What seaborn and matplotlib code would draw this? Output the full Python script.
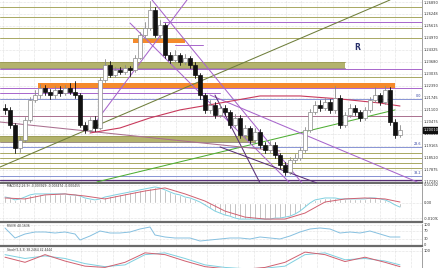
import numpy as np
import pandas as pd
import matplotlib
matplotlib.use("Agg")
import matplotlib.pyplot as plt
from matplotlib.patches import Rectangle
import seaborn as sns

sns.set_style("white")
plt.rcParams['font.family'] = ['DejaVu Sans']

# ---------------- data ----------------
first_open = 1.2120
closes = [1.2109, 1.2028, 1.1905, 1.1948, 1.2055, 1.2163, 1.2189, 1.2227, 1.2206, 1.2189,
          1.2216, 1.2200, 1.2227, 1.2206, 1.2189, 1.2028, 1.2001, 1.2055, 1.2012, 1.2270,
          1.2351, 1.2297, 1.2324, 1.2313, 1.2335, 1.2324, 1.2388, 1.2512, 1.2550, 1.2646,
          1.2512, 1.2566, 1.2404, 1.2378, 1.2404, 1.2367, 1.2388, 1.2351, 1.2297, 1.2189,
          1.2109, 1.2136, 1.2082, 1.2120, 1.2098, 1.2028, 1.2066, 1.1974, 1.2012, 1.1948,
          1.1990, 1.1921, 1.1894, 1.1921, 1.1867, 1.1813, 1.1776, 1.1840, 1.1851, 1.1894,
          1.2001, 1.2098, 1.2136, 1.2120, 1.2152, 1.2109, 1.2173, 1.2028, 1.2082, 1.2120,
          1.2098, 1.2066, 1.2109, 1.2163, 1.2189, 1.2152, 1.2216, 1.2044, 1.1974, 1.2001]
highs = [1.2140, 1.2125, 1.2040, 1.1965, 1.2070, 1.2180, 1.2215, 1.2250, 1.2245, 1.2220,
         1.2240, 1.2235, 1.2245, 1.2255, 1.2265, 1.2200, 1.2045, 1.2070, 1.2075, 1.2285,
         1.2380, 1.2370, 1.2340, 1.2340, 1.2350, 1.2345, 1.2405, 1.2530, 1.2580, 1.2695,
         1.2660, 1.2590, 1.2575, 1.2420, 1.2430, 1.2415, 1.2410, 1.2400, 1.2365, 1.2310,
         1.2200, 1.2160, 1.2150, 1.2140, 1.2135, 1.2110, 1.2085, 1.2080, 1.2030, 1.2025,
         1.2010, 1.2005, 1.1935, 1.1940, 1.1935, 1.1880, 1.1830, 1.1855, 1.1870, 1.1910,
         1.2015, 1.2115, 1.2155, 1.2160, 1.2175, 1.2165, 1.2240, 1.2190, 1.2100, 1.2140,
         1.2135, 1.2110, 1.2125, 1.2180, 1.2230, 1.2200, 1.2235, 1.2230, 1.2060, 1.2030]
lows = [1.2085, 1.2010, 1.1880, 1.1885, 1.1935, 1.2045, 1.2150, 1.2175, 1.2190, 1.2170,
        1.2175, 1.2185, 1.2190, 1.2195, 1.2175, 1.2015, 1.1985, 1.1990, 1.1995, 1.2005,
        1.2260, 1.2285, 1.2285, 1.2300, 1.2300, 1.2290, 1.2315, 1.2380, 1.2500, 1.2540,
        1.2500, 1.2495, 1.2390, 1.2360, 1.2365, 1.2350, 1.2355, 1.2335, 1.2280, 1.2170,
        1.2090, 1.2095, 1.2065, 1.2070, 1.2080, 1.2010, 1.2015, 1.1960, 1.1960, 1.1930,
        1.1935, 1.1905, 1.1875, 1.1880, 1.1850, 1.1795, 1.1760, 1.1765, 1.1825, 1.1840,
        1.1885, 1.1990, 1.2085, 1.2105, 1.2110, 1.2090, 1.2095, 1.2010, 1.2015, 1.2070,
        1.2080, 1.2050, 1.2055, 1.2100, 1.2150, 1.2135, 1.2140, 1.2030, 1.1960, 1.1965]

price_ticks = [1.26890, 1.26248, 1.25615, 1.24970, 1.24325, 1.23680, 1.23035, 1.22390,
               1.21745, 1.21100, 1.20475, 1.19810, 1.19165, 1.18520, 1.17875, 1.17230]
price_labels = ["1.26890", "1.26248", "1.25615", "1.24970", "1.24325", "1.23680", "1.23035",
                "1.22390", "1.21745", "1.21100", "1.20475", "1.19810", "1.19165", "1.18520",
                "1.17875", "1.17230"]
current_price_label = "1.20010"

olive_levels = [1.2662, 1.2609, 1.2550, 1.2496, 1.2286, 1.1878, 1.1851, 1.1824, 1.1797]
# purple levels: price, x start, x end (candle index units)
purple_levels = [1.2582, 1.2458, 1.2329, 1.2227, 1.2200, 1.1754]
purple_x0 = [31.6, 34.0, -1.0, -1.0, -1.0, 59.0]
purple_x1 = [83.4, 39.6, 83.4, 83.4, 43.0, 82.4]
fib_levels = [1.2168, 1.1910, 1.1754]
fib_names = ["0.0", "23.6", "38.2"]
mauve_level = 1.2077
bottom_levels = [1.1733, 1.1724]

# bands: low, high, x0, x1
band_lo = [1.2335, 1.1937, 1.2227, 1.2469]
band_hi = [1.2367, 1.1969, 1.2254, 1.2490]
band_x0 = [-1.0, -1.0, 6.6, 25.6]
band_x1 = [68.0, 50.0, 78.0, 36.0]
band_kind = ["olive", "olive", "orange", "orange"]

# trend lines: x0, p0, x1, p1
trend_x0 = [-1.0, 18.4, 18.0, 29.4, 25.0, 41.0, 43.0, 42.0, -1.0]
trend_p0 = [1.1802, 1.1722, 1.2039, 1.2700, 1.2576, 1.2189, 1.1910, 1.2189, 1.2044]
trend_x1 = [77.0, 78.0, 36.4, 59.4, 57.0, 82.4, 62.4, 51.0, 55.0]
trend_p1 = [1.2700, 1.2109, 1.2700, 1.1716, 1.1716, 1.1722, 1.1716, 1.1716, 1.1888]
trend_kind = ["darkolive", "green", "purple", "purple", "purple", "purple", "dark", "dark", "mauve"]

ma_x = [17, 23, 29, 35, 43, 51, 59, 67, 75, 79]
ma_p = [1.1985, 1.2012, 1.2066, 1.2109, 1.2146, 1.2184, 1.2184, 1.2168, 1.2146, 1.2130]

macd_main = [4.3, 3.6, 2.2, 2.9, 4.3, 5.8, 6.5, 6.5, 6.5, 6.5,
             6.5, 6.5, 6.5, 5.8, 5.8, 5.0, 3.6, 2.9, 2.2, 2.9,
             4.3, 5.0, 5.8, 6.5, 7.2, 7.9, 8.6, 9.4, 10.1, 10.8,
             11.5, 10.8, 9.4, 7.9, 6.5, 5.8, 4.3, 3.6, 2.2, 0.7,
             -1.4, -3.6, -5.8, -7.2, -8.6, -9.4, -10.8, -11.5, -11.5, -11.5,
             -11.5, -11.5, -11.5, -11.5, -10.8, -10.8, -10.1, -9.4, -7.9, -5.8,
             -2.9, 0.0, 2.2, 2.9, 3.6, 3.6, 3.6, 2.9, 2.9, 2.9,
             2.9, 2.9, 2.9, 3.6, 3.6, 2.9, 2.2, 0.7, -1.4, -2.9]  # x 1e-3
signal_x = [0, 4, 8, 12, 16, 20, 24, 28, 32, 36, 40, 44, 48, 52, 56, 60, 64, 68, 72, 76, 79]
signal_v = [3.6, 2.9, 5.8, 6.5, 5.0, 2.9, 5.8, 8.6, 10.8, 6.5, 1.4, -5.8, -10.1, -11.5,
            -11.5, -7.2, 0.7, 2.9, 3.6, 2.9, 0.7]  # x 1e-3
macd_ticks = [0.01292, 0.0, -0.01092]
macd_labels = ["0.01292", "0.00", "-0.01092"]

rsi_x = [0, 2, 4, 6, 8, 10, 12, 14, 15, 17, 19, 21, 23, 25, 27, 29, 30, 32, 34, 37, 39,
         41, 43, 45, 47, 49, 51, 53, 55, 57, 59, 61, 63, 65, 67, 69, 71, 73, 75, 77, 79]
rsi_v = [85, 35, 55, 65, 65, 60, 65, 55, 25, 45, 70, 60, 60, 65, 80, 90, 50, 40, 35, 35, 20,
         25, 30, 35, 35, 30, 40, 35, 30, 45, 65, 80, 85, 80, 60, 65, 60, 70, 55, 40, 40]
rsi_ticks = [100, 70, 30, 0]

sto_x = [0, 4, 8, 12, 16, 20, 24, 28, 32, 36, 40, 44, 48, 52, 56, 60, 64, 68, 72, 76, 79]
sto_main = [85, 70, 80, 70, 50, 38, 45, 85, 92, 70, 45, 35, 30, 32, 40, 85, 92, 65, 70, 60, 45]
sto_sig = [75, 55, 85, 60, 40, 35, 55, 92, 85, 60, 38, 30, 28, 35, 55, 95, 85, 58, 75, 55, 38]

macd_title = "MACD(12,26,9) -0.003929 -0.003474 -0.000455"
rsi_title = "RSI(9) 40.1636"
sto_title = "Stoch(5,3,3) 38.2464 42.4444"

# ---------------- style ----------------
C = {"olive": "#a8a862", "oliveband": "#b3b36c", "orange": "#f58a2c", "purple": "#a866cc",
     "dark": "#5a3078", "darkolive": "#6f7f3c", "green": "#4fae34", "mauve": "#aa6f8f",
     "red": "#c83a5c", "blue": "#8894d4", "grid": "#c8c8c8", "sep": "#6a6a6a"}

W, H = 439, 268
PR = 422
XL = (-1.0, 83.4)


def frac(x0, y0, x1, y1):
    return [x0 / W, 1 - y1 / H, (x1 - x0) / W, (y1 - y0) / H]


fig = plt.figure(figsize=(W / 100, H / 100), dpi=100)
fig.patch.set_facecolor("white")
ax = fig.add_axes(frac(0, 0, PR, 183))
axm = fig.add_axes(frac(0, 184, PR, 222))
axr = fig.add_axes(frac(0, 224, PR, 246))
axs = fig.add_axes(frac(0, 248, PR, 282))

ymax = 1.26998
ymin = ymax - 183 * 0.0005375
grid_x = np.arange(-0.4, 84, 3.14)


def base(a, ylim, ticks, labels):
    a.set_xlim(*XL)
    a.set_ylim(*ylim)
    a.yaxis.tick_right()
    a.set_yticks(ticks)
    a.set_yticklabels(labels)
    a.set_xticks([])
    a.tick_params(axis="y", labelsize=2.6, length=0, pad=1.2, colors="#303030")
    for gx in grid_x:
        a.axvline(gx, color=C["grid"], lw=0.4, ls=(0, (1, 1.5)), zorder=0)
    for t in ticks:
        a.axhline(t, color=C["grid"], lw=0.4, ls=(0, (1, 1.5)), zorder=0)
    a.spines["left"].set_visible(False)
    a.spines["top"].set_visible(False)
    a.spines["right"].set_color("#909090")
    a.spines["right"].set_linewidth(0.6)
    a.spines["bottom"].set_color(C["sep"])
    a.spines["bottom"].set_linewidth(1.6)


base(ax, (ymin, ymax), price_ticks, price_labels)

# bands
for lo, hi, x0, x1, k in zip(band_lo, band_hi, band_x0, band_x1, band_kind):
    col = C["oliveband"] if k == "olive" else C["orange"]
    ax.add_patch(Rectangle((x0, lo), x1 - x0, hi - lo, facecolor=col, edgecolor="none", zorder=1))
    if k == "olive":
        ax.plot([x0, x1], [lo, lo], color="#8a7a70", lw=0.6, zorder=1)
        ax.plot([x0, x1], [hi, hi], color="#9a9a55", lw=0.6, zorder=1)

for lvl in olive_levels:
    ax.axhline(lvl, color=C["olive"], lw=0.7, zorder=2)
for lvl, x0, x1 in zip(purple_levels, purple_x0, purple_x1):
    ax.plot([x0, x1], [lvl, lvl], color=C["purple"], lw=0.7, zorder=2)
ax.axhline(mauve_level, color=C["mauve"], lw=0.7, zorder=2)
for lvl, nm in zip(fib_levels, fib_names):
    ax.axhline(lvl, color=C["blue"], lw=0.7, zorder=2)
    ax.text(83.2, lvl + 0.0004, nm, fontsize=2.4, color="#3040a0", ha="right", va="bottom", zorder=6)
for lvl in bottom_levels:
    ax.axhline(lvl, color=C["dark"], lw=0.9, zorder=2)

for x0, p0, x1, p1, k in zip(trend_x0, trend_p0, trend_x1, trend_p1, trend_kind):
    ax.plot([x0, x1], [p0, p1], color=C[k], lw=0.75, zorder=3)

sns.lineplot(x=ma_x, y=ma_p, ax=ax, color=C["red"], lw=0.8, zorder=3)

# candles
opens = [first_open] + closes[:-1]
for i, (o, h, l, c) in enumerate(zip(opens, highs, lows, closes)):
    up = c >= o
    ax.plot([i, i], [l, h], color="#8a8a8a" if up else "#111111", lw=0.6, zorder=4)
    ax.add_patch(Rectangle((i - 0.32, min(o, c)), 0.64, max(abs(c - o), 0.00025),
                           facecolor="white" if up else "#111111",
                           edgecolor="#8a8a8a" if up else "#111111", lw=0.5, zorder=5))

ax.text(70.4, 1.2442, "R", fontsize=5.5, color="#28306a", fontweight="bold",
        ha="center", va="center", zorder=6)
ax.annotate(current_price_label, xy=(1.0, closes[-1]), xycoords=("axes fraction", "data"),
            xytext=(1.5, 0), textcoords="offset points", fontsize=2.6, color="white",
            va="center", ha="left", annotation_clip=False,
            bbox=dict(boxstyle="square,pad=0.25", fc="#111111", ec="#111111"))

# MACD
base(axm, (-0.0136, 0.0136), macd_ticks, macd_labels)
idx = np.arange(len(macd_main))
mvals = np.array(macd_main) * 1e-3
axm.bar(idx, mvals, width=0.25, color="#a0a0a0", zorder=2)
sns.lineplot(x=idx, y=mvals, ax=axm, color="#7fd0e0", lw=0.7, zorder=3)
sns.lineplot(x=signal_x, y=np.array(signal_v) * 1e-3, ax=axm, color="#d06070", lw=0.7, zorder=3)
axm.text(0.5, 0.0122, macd_title, fontsize=2.2, color="#303030", va="center", ha="left")

# RSI
base(axr, (-5, 105), rsi_ticks, [str(t) for t in rsi_ticks])
sns.lineplot(x=rsi_x, y=rsi_v, ax=axr, color="#86c0e0", lw=0.7)
axr.text(0.5, 96, rsi_title, fontsize=2.2, color="#303030", va="center", ha="left")

# Stochastic
base(axs, (-22, 111), [100], ["100"])
axs.spines["bottom"].set_visible(False)
sns.lineplot(x=sto_x, y=sto_main, ax=axs, color="#7fd0e0", lw=0.7)
sns.lineplot(x=sto_x, y=sto_sig, ax=axs, color="#d06070", lw=0.7)
axs.text(0.5, 104, sto_title, fontsize=2.2, color="#303030", va="center", ha="left")

for a in (ax, axm, axr, axs):
    a.set_xlabel("")
    a.set_ylabel("")
    if a.get_legend():
        a.get_legend().remove()

fig.savefig("out.png", dpi=100, facecolor="white")
